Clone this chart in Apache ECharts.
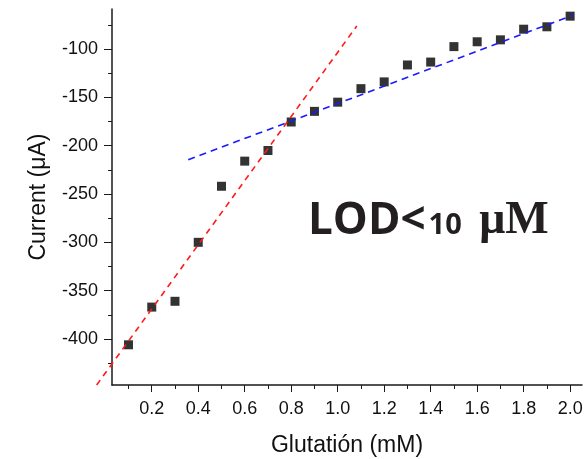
<!DOCTYPE html>
<html>
<head>
<meta charset="utf-8">
<script src="https://cdn.jsdelivr.net/npm/echarts@6/dist/echarts.min.js"></script>
<style>
  html, body { margin: 0; padding: 0; background: #ffffff; }
  #chart { width: 588px; height: 459px; }
</style>
</head>
<body>
<div id="chart"></div>
<script>
// Glutathione concentration (mM) and measured current (µA)
const concentration = [0.1, 0.2, 0.3, 0.4, 0.5, 0.6, 0.7, 0.8, 0.9, 1.0,
                       1.1, 1.2, 1.3, 1.4, 1.5, 1.6, 1.7, 1.8, 1.9, 2.0];
const current = [-406, -367, -361, -300, -242, -216, -205, -175.5, -164.5, -155,
                 -141, -134, -116.5, -113.5, -97.5, -92.5, -90.5, -79.5, -77, -66];

// Linear fits: low-concentration range (red) and high-concentration range (blue)
const fitLowX = [-0.037, 1.082];
const fitLowY = [-447.6, -76.2];
const fitHighX = [0.357, 2.014];
const fitHighY = [-214.5, -64.8];

// Axis ticks
const xMajorTicks = [0.2, 0.4, 0.6, 0.8, 1.0, 1.2, 1.4, 1.6, 1.8, 2.0];
const xMinorTicks = [0.1, 0.3, 0.5, 0.7, 0.9, 1.1, 1.3, 1.5, 1.7, 1.9];
const yMajorTicks = [-400, -350, -300, -250, -200, -150, -100];
const yMinorTicks = [-425, -375, -325, -275, -225, -175, -125, -75];

const X_MIN = 0.029, X_MAX = 2.051;
const Y_MIN = -447.6, Y_MAX = -58.6;

const FONT = '"Liberation Sans", Arial, sans-serif';
const AXIS_COLOR = '#1a1a1a';

const chart = echarts.init(document.getElementById('chart'), null, { renderer: 'canvas' });

const points = concentration.map((x, i) => [x, current[i]]);

// A fit line is one item [x0, y0, x1, y1]; it may run past the plot frame.
function fitLineSeries(xs, ys, color, dash) {
  return {
    type: 'custom',
    clip: false,
    z: 3,
    data: [[xs[0], ys[0], xs[1], ys[1]]],
    renderItem: (params, api) => {
      const p0 = api.coord([api.value(0), api.value(1)]);
      const p1 = api.coord([api.value(2), api.value(3)]);
      return {
        type: 'line',
        shape: { x1: p0[0], y1: p0[1], x2: p1[0], y2: p1[1] },
        style: { stroke: color, lineWidth: 1.6, lineDash: dash, fill: null }
      };
    }
  };
}

chart.setOption({
  animation: false,
  backgroundColor: '#ffffff',
  grid: { left: 112, right: 6, top: 9, bottom: 74, containLabel: false, outerBoundsMode: 'none' },
  xAxis: [
    {
      type: 'value', min: X_MIN, max: X_MAX,
      name: 'Glutatión (mM)', nameLocation: 'middle', nameGap: 49,
      nameTextStyle: { fontFamily: FONT, fontSize: 23, color: '#111' },
      axisLine: { show: true, lineStyle: { color: AXIS_COLOR, width: 1.5 } },
      axisTick: { show: true, customValues: xMajorTicks, length: 7, lineStyle: { color: AXIS_COLOR, width: 1 } },
      axisLabel: { customValues: xMajorTicks, fontFamily: FONT, fontSize: 18, color: '#111', margin: 15,
                   formatter: v => v.toFixed(1) },
      splitLine: { show: false }
    },
    {
      type: 'value', min: X_MIN, max: X_MAX, position: 'bottom',
      axisLine: { show: false },
      axisTick: { show: true, customValues: xMinorTicks, length: 4, lineStyle: { color: AXIS_COLOR, width: 1 } },
      axisLabel: { show: false },
      splitLine: { show: false }
    }
  ],
  yAxis: [
    {
      type: 'value', min: Y_MIN, max: Y_MAX,
      name: 'Current (μA)', nameLocation: 'middle', nameGap: 62, nameRotate: 90,
      nameTextStyle: { fontFamily: FONT, fontSize: 23, color: '#111' },
      axisLine: { show: true, lineStyle: { color: AXIS_COLOR, width: 1.5 } },
      axisTick: { show: true, customValues: yMajorTicks, length: 8, lineStyle: { color: AXIS_COLOR, width: 1 } },
      axisLabel: { customValues: yMajorTicks, fontFamily: FONT, fontSize: 18, color: '#111', margin: 14 },
      splitLine: { show: false }
    },
    {
      type: 'value', min: Y_MIN, max: Y_MAX, position: 'left',
      axisLine: { show: false },
      axisTick: { show: true, customValues: yMinorTicks, length: 4, lineStyle: { color: AXIS_COLOR, width: 1 } },
      axisLabel: { show: false },
      splitLine: { show: false }
    }
  ],
  series: [
    {
      type: 'scatter', data: points, symbol: 'rect', symbolSize: 9,
      itemStyle: { color: '#000000' }, z: 2
    },
    fitLineSeries(fitLowX, fitLowY, '#ff1a1a', [6, 5]),
    fitLineSeries(fitHighX, fitHighY, '#1a1aff', [7, 5])
  ],
  graphic: [
    {
      type: 'text', left: 308, top: 198, z: 10,
      style: {
        text: '{a|LOD<}{b|10}{c| μM}',
        rich: {
          a: { fontFamily: '"Open Sans", "Noto Sans", sans-serif', fontWeight: 'bold', fontSize: 44, fill: '#231f20' },
          b: { fontFamily: '"Open Sans", "Noto Sans", sans-serif', fontWeight: 'bold', fontSize: 29, fill: '#231f20',
               verticalAlign: 'bottom', padding: [0, 6, 4, 3] },
          c: { fontFamily: '"Liberation Serif", "DejaVu Serif", serif', fontWeight: 'bold', fontSize: 46, fill: '#231f20' }
        }
      }
    }
  ]
});
</script>
</body>
</html>
